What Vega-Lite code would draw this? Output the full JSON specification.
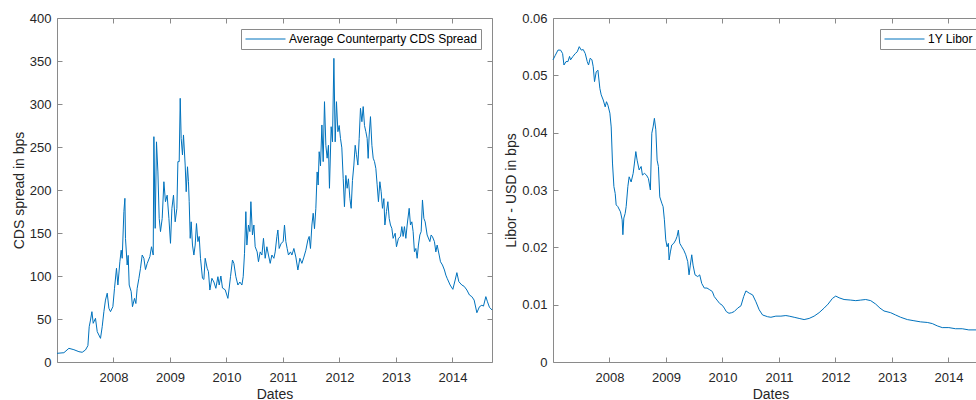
{
"$schema": "https://vega.github.io/schema/vega-lite/v6.json",
"padding": {"left": 12, "top": 12, "right": 0, "bottom": 0},
"config": {
  "font": "Liberation Sans",
  "view": {"stroke": null},
  "axis": {"grid": false, "domainColor": "#8a8a8a", "tickColor": "#8a8a8a", "labelColor": "#262626", "titleColor": "#262626", "labelFontSize": 13, "titleFontSize": 14, "titleFontWeight": "normal", "tickSize": -5, "domainWidth": 1, "tickWidth": 1},
  "legend": {"orient": "top-right", "title": null, "offset": 11, "padding": 4, "strokeColor": "#8a8a8a", "fillColor": "#ffffff", "symbolType": "stroke", "symbolSize": 1600, "symbolStrokeWidth": 1, "clipHeight": 12, "labelFontSize": 12, "labelLimit": 400, "labelColor": "#000000", "labelOffset": 3, "cornerRadius": 0}
},
"datasets": {
"cds": [
{"t":2007.0,"v":10.1},{"t":2007.122,"v":10.8},{"t":2007.211,"v":15.9},{"t":2007.299,"v":14.3},{"t":2007.388,"v":12.0},{"t":2007.446,"v":11.3},{"t":2007.504,"v":14.0},{"t":2007.547,"v":19.0},{"t":2007.570,"v":41},{"t":2007.593,"v":48.8},{"t":2007.618,"v":58.5},{"t":2007.641,"v":45},{"t":2007.681,"v":50.8},{"t":2007.712,"v":35.3},{"t":2007.770,"v":27.5},{"t":2007.800,"v":41},{"t":2007.830,"v":58.5},{"t":2007.858,"v":72},{"t":2007.889,"v":80},{"t":2007.919,"v":62.4},{"t":2007.947,"v":58.5},{"t":2007.989,"v":64.3},
{"t":2008.018,"v":85.7},{"t":2008.053,"v":109},{"t":2008.078,"v":89.5},{"t":2008.113,"v":116.6},{"t":2008.136,"v":130},{"t":2008.154,"v":120.6},{"t":2008.184,"v":174.8},{"t":2008.202,"v":190.3},{"t":2008.212,"v":143.8},{"t":2008.242,"v":112.8},{"t":2008.260,"v":124},{"t":2008.278,"v":89.5},{"t":2008.313,"v":81.8},{"t":2008.336,"v":64.3},{"t":2008.372,"v":74},{"t":2008.396,"v":68},{"t":2008.419,"v":85.7},{"t":2008.450,"v":97.3},{"t":2008.478,"v":109},{"t":2008.508,"v":124.4},{"t":2008.538,"v":120.6},{"t":2008.566,"v":107.5},{"t":2008.597,"v":114.7},{"t":2008.644,"v":122.5},{"t":2008.673,"v":134},{"t":2008.703,"v":124.4},{"t":2008.715,"v":262},{"t":2008.738,"v":155.4},{"t":2008.761,"v":256},{"t":2008.786,"v":221},{"t":2008.809,"v":167},{"t":2008.832,"v":151.6},{"t":2008.862,"v":167},{"t":2008.892,"v":209.6},{"t":2008.920,"v":186.4},{"t":2008.950,"v":194},{"t":2008.981,"v":167},
{"t":2009.009,"v":138},{"t":2009.034,"v":178.7},{"t":2009.062,"v":194},{"t":2009.092,"v":163},{"t":2009.122,"v":178.7},{"t":2009.140,"v":233},{"t":2009.163,"v":233},{"t":2009.181,"v":306.6},{"t":2009.198,"v":260},{"t":2009.221,"v":240.7},{"t":2009.239,"v":264},{"t":2009.269,"v":229},{"t":2009.287,"v":198},{"t":2009.310,"v":227},{"t":2009.327,"v":209.6},{"t":2009.340,"v":186.4},{"t":2009.358,"v":143.8},{"t":2009.375,"v":163},{"t":2009.398,"v":136},{"t":2009.423,"v":124.4},{"t":2009.446,"v":136},{"t":2009.469,"v":161},{"t":2009.494,"v":140},{"t":2009.517,"v":146},{"t":2009.540,"v":120.6},{"t":2009.575,"v":97.3},{"t":2009.600,"v":96},{"t":2009.623,"v":120.6},{"t":2009.658,"v":109},{"t":2009.681,"v":105},{"t":2009.706,"v":83.7},{"t":2009.742,"v":97.3},{"t":2009.777,"v":93},{"t":2009.812,"v":85.7},{"t":2009.848,"v":99.2},{"t":2009.871,"v":89.5},{"t":2009.901,"v":100},{"t":2009.929,"v":86},{"t":2009.977,"v":84},
{"t":2010.025,"v":74},{"t":2010.048,"v":86},{"t":2010.071,"v":99.2},{"t":2010.106,"v":118.6},{"t":2010.131,"v":114.7},{"t":2010.166,"v":99.2},{"t":2010.202,"v":89.5},{"t":2010.237,"v":93},{"t":2010.273,"v":89.5},{"t":2010.296,"v":99.2},{"t":2010.319,"v":126.4},{"t":2010.343,"v":174.8},{"t":2010.361,"v":136},{"t":2010.389,"v":159.3},{"t":2010.414,"v":151.6},{"t":2010.432,"v":186.4},{"t":2010.460,"v":147.7},{"t":2010.485,"v":159.3},{"t":2010.508,"v":134},{"t":2010.543,"v":128},{"t":2010.566,"v":116.6},{"t":2010.597,"v":128},{"t":2010.627,"v":124.4},{"t":2010.655,"v":143.8},{"t":2010.685,"v":120.6},{"t":2010.715,"v":134},{"t":2010.743,"v":124.4},{"t":2010.774,"v":114.7},{"t":2010.804,"v":124.4},{"t":2010.839,"v":120.6},{"t":2010.862,"v":128},{"t":2010.892,"v":145.7},{"t":2010.910,"v":153.5},{"t":2010.933,"v":132},{"t":2010.968,"v":138},
{"t":2011.004,"v":140},{"t":2011.027,"v":159.3},{"t":2011.051,"v":140},{"t":2011.074,"v":132},{"t":2011.097,"v":124.4},{"t":2011.133,"v":128},{"t":2011.158,"v":124.4},{"t":2011.193,"v":132},{"t":2011.228,"v":122},{"t":2011.264,"v":107},{"t":2011.299,"v":120.6},{"t":2011.335,"v":114.7},{"t":2011.370,"v":122},{"t":2011.405,"v":130},{"t":2011.441,"v":141.9},{"t":2011.464,"v":146},{"t":2011.487,"v":132},{"t":2011.512,"v":159.3},{"t":2011.535,"v":173},{"t":2011.558,"v":155},{"t":2011.582,"v":178.7},{"t":2011.605,"v":221},{"t":2011.623,"v":205.8},{"t":2011.641,"v":244.5},{"t":2011.664,"v":228},{"t":2011.689,"v":275.6},{"t":2011.712,"v":233},{"t":2011.735,"v":302.7},{"t":2011.759,"v":252},{"t":2011.782,"v":237},{"t":2011.805,"v":252},{"t":2011.823,"v":202},{"t":2011.853,"v":273.6},{"t":2011.876,"v":256},{"t":2011.901,"v":353.1},{"t":2011.924,"v":256},{"t":2011.947,"v":302.7},{"t":2011.972,"v":267.8},{"t":2011.995,"v":275},
{"t":2012.018,"v":260},{"t":2012.042,"v":249},{"t":2012.066,"v":213.6},{"t":2012.088,"v":180.6},{"t":2012.113,"v":217},{"t":2012.136,"v":202},{"t":2012.159,"v":213},{"t":2012.184,"v":190.3},{"t":2012.207,"v":178.7},{"t":2012.230,"v":211},{"t":2012.255,"v":229},{"t":2012.278,"v":252},{"t":2012.301,"v":241},{"t":2012.326,"v":229},{"t":2012.349,"v":260},{"t":2012.372,"v":295},{"t":2012.397,"v":279.4},{"t":2012.420,"v":297},{"t":2012.443,"v":275},{"t":2012.467,"v":267.8},{"t":2012.490,"v":260},{"t":2012.508,"v":236.8},{"t":2012.526,"v":264},{"t":2012.549,"v":285.3},{"t":2012.574,"v":252},{"t":2012.597,"v":237},{"t":2012.620,"v":233},{"t":2012.644,"v":225},{"t":2012.667,"v":206},{"t":2012.690,"v":186.4},{"t":2012.715,"v":209.6},{"t":2012.738,"v":198},{"t":2012.761,"v":178.7},{"t":2012.786,"v":190},{"t":2012.804,"v":159.3},{"t":2012.832,"v":175},{"t":2012.857,"v":186.4},{"t":2012.880,"v":167},{"t":2012.903,"v":159.3},{"t":2012.927,"v":155.4},{"t":2012.950,"v":143.8},{"t":2012.986,"v":149.7},
{"t":2013.009,"v":134},{"t":2013.044,"v":143.8},{"t":2013.080,"v":146},{"t":2013.104,"v":157.4},{"t":2013.127,"v":146},{"t":2013.150,"v":157.4},{"t":2013.175,"v":143.8},{"t":2013.198,"v":159.3},{"t":2013.234,"v":178.7},{"t":2013.257,"v":159.3},{"t":2013.281,"v":163},{"t":2013.304,"v":151.6},{"t":2013.327,"v":128.3},{"t":2013.352,"v":132},{"t":2013.375,"v":120.6},{"t":2013.398,"v":136},{"t":2013.423,"v":147.7},{"t":2013.446,"v":151.6},{"t":2013.469,"v":188.4},{"t":2013.494,"v":167},{"t":2013.517,"v":163},{"t":2013.552,"v":147.7},{"t":2013.600,"v":140},{"t":2013.623,"v":147.7},{"t":2013.646,"v":145.7},{"t":2013.681,"v":140},{"t":2013.706,"v":128},{"t":2013.729,"v":136},{"t":2013.765,"v":124.4},{"t":2013.788,"v":116.6},{"t":2013.823,"v":112.8},{"t":2013.858,"v":107},{"t":2013.883,"v":101},{"t":2013.906,"v":97.3},{"t":2013.959,"v":89.5},
{"t":2014.007,"v":84.5},{"t":2014.048,"v":95.3},{"t":2014.078,"v":103.9},{"t":2014.113,"v":93.4},{"t":2014.166,"v":89.5},{"t":2014.207,"v":88},{"t":2014.255,"v":83.7},{"t":2014.301,"v":77.9},{"t":2014.343,"v":76},{"t":2014.384,"v":72},{"t":2014.432,"v":57.3},{"t":2014.478,"v":64.3},{"t":2014.520,"v":66},{"t":2014.549,"v":65},{"t":2014.591,"v":76},{"t":2014.620,"v":70},{"t":2014.655,"v":63.6},{"t":2014.700,"v":60.5}
],
"libor": [
{"t":2007.0,"v":0.0527},{"t":2007.041,"v":0.0535},{"t":2007.088,"v":0.0544},{"t":2007.134,"v":0.0544},{"t":2007.170,"v":0.0538},{"t":2007.194,"v":0.0518},{"t":2007.230,"v":0.0524},{"t":2007.265,"v":0.0524},{"t":2007.293,"v":0.0533},{"t":2007.311,"v":0.0527},{"t":2007.353,"v":0.0533},{"t":2007.394,"v":0.0538},{"t":2007.429,"v":0.0541},{"t":2007.465,"v":0.0550},{"t":2007.500,"v":0.0544},{"t":2007.535,"v":0.0545},{"t":2007.571,"v":0.0538},{"t":2007.606,"v":0.0524},{"t":2007.629,"v":0.0518},{"t":2007.659,"v":0.0530},{"t":2007.689,"v":0.0527},{"t":2007.712,"v":0.0515},{"t":2007.735,"v":0.0489},{"t":2007.765,"v":0.0506},{"t":2007.795,"v":0.0509},{"t":2007.830,"v":0.0477},{"t":2007.853,"v":0.0466},{"t":2007.889,"v":0.0457},{"t":2007.924,"v":0.0445},{"t":2007.947,"v":0.0454},{"t":2007.972,"v":0.0448},
{"t":2008.007,"v":0.0434},{"t":2008.030,"v":0.0410},{"t":2008.053,"v":0.0347},{"t":2008.078,"v":0.0306},{"t":2008.101,"v":0.0294},{"t":2008.118,"v":0.0274},{"t":2008.148,"v":0.0271},{"t":2008.194,"v":0.0262},{"t":2008.224,"v":0.0248},{"t":2008.237,"v":0.0222},{"t":2008.254,"v":0.0251},{"t":2008.277,"v":0.0259},{"t":2008.295,"v":0.0271},{"t":2008.325,"v":0.0306},{"t":2008.348,"v":0.0323},{"t":2008.383,"v":0.0314},{"t":2008.419,"v":0.0329},{"t":2008.442,"v":0.0347},{"t":2008.466,"v":0.0367},{"t":2008.489,"v":0.0352},{"t":2008.525,"v":0.0335},{"t":2008.560,"v":0.0341},{"t":2008.583,"v":0.0326},{"t":2008.618,"v":0.0329},{"t":2008.654,"v":0.0326},{"t":2008.689,"v":0.0320},{"t":2008.724,"v":0.0300},{"t":2008.749,"v":0.0399},{"t":2008.772,"v":0.0410},{"t":2008.795,"v":0.0425},{"t":2008.820,"v":0.0405},{"t":2008.843,"v":0.0352},{"t":2008.866,"v":0.0341},{"t":2008.890,"v":0.0288},{"t":2008.926,"v":0.0277},{"t":2008.949,"v":0.0271},{"t":2008.972,"v":0.0248},{"t":2008.996,"v":0.0213},
{"t":2009.019,"v":0.0201},{"t":2009.042,"v":0.0207},{"t":2009.055,"v":0.0178},{"t":2009.078,"v":0.0192},{"t":2009.102,"v":0.0204},{"t":2009.138,"v":0.0207},{"t":2009.173,"v":0.0213},{"t":2009.196,"v":0.0219},{"t":2009.219,"v":0.0230},{"t":2009.244,"v":0.0207},{"t":2009.279,"v":0.0201},{"t":2009.315,"v":0.0195},{"t":2009.350,"v":0.0187},{"t":2009.385,"v":0.0175},{"t":2009.408,"v":0.0152},{"t":2009.431,"v":0.0169},{"t":2009.456,"v":0.0187},{"t":2009.479,"v":0.0169},{"t":2009.514,"v":0.0152},{"t":2009.562,"v":0.0149},{"t":2009.597,"v":0.0152},{"t":2009.633,"v":0.0137},{"t":2009.678,"v":0.0129},{"t":2009.726,"v":0.0129},{"t":2009.774,"v":0.0126},{"t":2009.820,"v":0.0123},{"t":2009.855,"v":0.0114},{"t":2009.903,"v":0.0108},{"t":2009.951,"v":0.0102},{"t":2009.996,"v":0.0099},
{"t":2010.032,"v":0.0094},{"t":2010.067,"v":0.0088},{"t":2010.115,"v":0.0085},{"t":2010.163,"v":0.0086},{"t":2010.208,"v":0.0088},{"t":2010.269,"v":0.0094},{"t":2010.327,"v":0.0098},{"t":2010.375,"v":0.0114},{"t":2010.415,"v":0.0124},{"t":2010.474,"v":0.0120},{"t":2010.534,"v":0.0117},{"t":2010.592,"v":0.0105},{"t":2010.650,"v":0.0091},{"t":2010.710,"v":0.0082},{"t":2010.799,"v":0.0079},{"t":2010.857,"v":0.0078},{"t":2010.945,"v":0.0080},
{"t":2011.034,"v":0.0080},{"t":2011.122,"v":0.0081},{"t":2011.180,"v":0.0080},{"t":2011.269,"v":0.0078},{"t":2011.357,"v":0.0076},{"t":2011.445,"v":0.0074},{"t":2011.534,"v":0.0076},{"t":2011.622,"v":0.0080},{"t":2011.710,"v":0.0086},{"t":2011.799,"v":0.0094},{"t":2011.869,"v":0.0101},{"t":2011.947,"v":0.0111},
{"t":2012.005,"v":0.0115},{"t":2012.064,"v":0.0112},{"t":2012.152,"v":0.0109},{"t":2012.270,"v":0.0108},{"t":2012.359,"v":0.0107},{"t":2012.447,"v":0.0108},{"t":2012.535,"v":0.0109},{"t":2012.624,"v":0.0107},{"t":2012.712,"v":0.0101},{"t":2012.788,"v":0.0094},{"t":2012.859,"v":0.0089},{"t":2012.977,"v":0.0086},
{"t":2013.065,"v":0.0082},{"t":2013.154,"v":0.0078},{"t":2013.272,"v":0.0074},{"t":2013.389,"v":0.0072},{"t":2013.507,"v":0.0070},{"t":2013.625,"v":0.0069},{"t":2013.714,"v":0.0067},{"t":2013.802,"v":0.0063},{"t":2013.890,"v":0.0060},
{"t":2014.007,"v":0.0060},{"t":2014.125,"v":0.0058},{"t":2014.244,"v":0.0058},{"t":2014.360,"v":0.0056},{"t":2014.497,"v":0.0056},{"t":2014.600,"v":0.0055},{"t":2014.700,"v":0.0054}
]
},
"bounds": "flush",
"spacing": 61,
"resolve": {"scale": {"color": "independent"}},
"hconcat": [
{
  "width": 435, "height": 344,
  "data": {"name": "cds"},
  "layer": [
    {"mark": {"type": "line", "strokeWidth": 1},
     "encoding": {
       "x": {"field": "t", "type": "quantitative", "scale": {"domain": [2007, 2014.7], "nice": false, "zero": false},
             "axis": {"orient": "bottom", "values": [2008, 2009, 2010, 2011, 2012, 2013, 2014], "format": "d", "labelPadding": 14.5, "title": "Dates", "titleY": 36, "titleBaseline": "alphabetic"}},
       "y": {"field": "v", "type": "quantitative", "scale": {"domain": [0, 400], "nice": false},
             "axis": {"orient": "left", "values": [0, 50, 100, 150, 200, 250, 300, 350, 400], "labelPadding": 11, "title": "CDS spread in bps", "titleX": -34, "titleY": 172, "titleBaseline": "alphabetic"}},
       "color": {"datum": "Average Counterparty CDS Spread", "scale": {"range": ["#0072BD"]}}
     }},
    {"mark": {"type": "line", "opacity": 0},
     "encoding": {
       "x": {"field": "t", "type": "quantitative", "axis": {"orient": "top", "values": [2008, 2009, 2010, 2011, 2012, 2013, 2014], "labels": false, "title": null}},
       "y": {"field": "v", "type": "quantitative", "axis": {"orient": "right", "values": [0, 50, 100, 150, 200, 250, 300, 350, 400], "labels": false, "title": null}}
     }}
  ],
  "resolve": {"axis": {"x": "independent", "y": "independent"}}
},
{
  "width": 435, "height": 344,
  "data": {"name": "libor"},
  "layer": [
    {"mark": {"type": "line", "strokeWidth": 1},
     "encoding": {
       "x": {"field": "t", "type": "quantitative", "scale": {"domain": [2007, 2014.7], "nice": false, "zero": false},
             "axis": {"orient": "bottom", "values": [2008, 2009, 2010, 2011, 2012, 2013, 2014], "format": "d", "labelPadding": 14.5, "title": "Dates", "titleY": 36, "titleBaseline": "alphabetic"}},
       "y": {"field": "v", "type": "quantitative", "scale": {"domain": [0, 0.06], "nice": false},
             "axis": {"orient": "left", "values": [0, 0.01, 0.02, 0.03, 0.04, 0.05, 0.06], "format": "~g", "labelPadding": 11, "title": "Libor - USD in bps", "titleX": -38, "titleY": 172, "titleBaseline": "alphabetic"}},
       "color": {"datum": "1Y Libor", "scale": {"range": ["#0072BD"]}}
     }},
    {"mark": {"type": "line", "opacity": 0},
     "encoding": {
       "x": {"field": "t", "type": "quantitative", "axis": {"orient": "top", "values": [2008, 2009, 2010, 2011, 2012, 2013, 2014], "labels": false, "title": null}},
       "y": {"field": "v", "type": "quantitative", "axis": {"orient": "right", "values": [0, 0.01, 0.02, 0.03, 0.04, 0.05, 0.06], "labels": false, "title": null}}
     }}
  ],
  "resolve": {"axis": {"x": "independent", "y": "independent"}}
}
]
}
